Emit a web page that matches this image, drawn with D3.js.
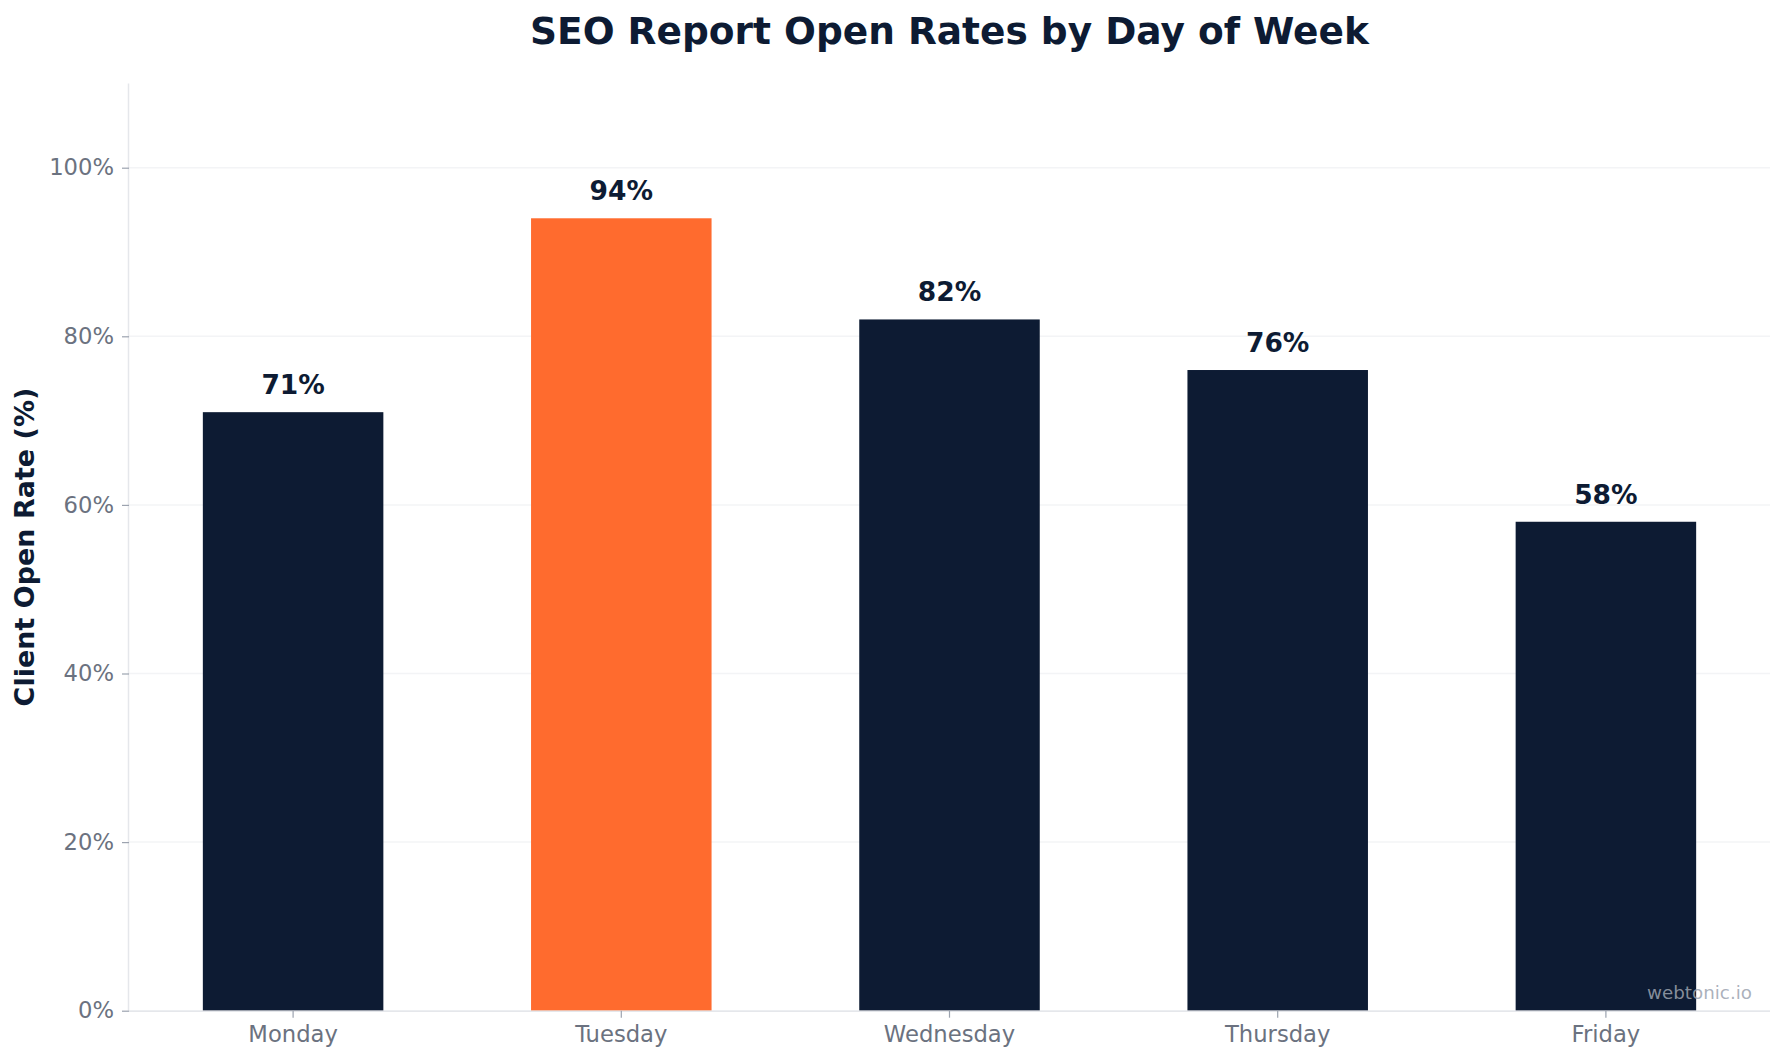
<!DOCTYPE html>
<html>
<head>
<meta charset="utf-8">
<script src="https://cdn.jsdelivr.net/npm/d3@7"></script>
<style>
  body { margin: 0; background: #fff; }
  svg { display: block; font-family: "DejaVu Sans", sans-serif; }
</style>
</head>
<body>
<svg width="1784" height="1064"></svg>
<script>
// chart data
var days = ["Monday", "Tuesday", "Wednesday", "Thursday", "Friday"];
var openRates = [71, 94, 82, 76, 58];
var highlightDay = "Tuesday";
var yTicks = [0, 20, 40, 60, 80, 100];

var svg = d3.select("svg");
var margin = {top: 83.4, right: 14, bottom: 53.3, left: 129};
var width = 1784 - margin.left - margin.right;
var height = 1064 - margin.top - margin.bottom;

var navy = "#0d1b33";
var orange = "#ff6b2e";

var g = svg.append("g")
    .attr("transform", "translate(" + margin.left + "," + margin.top + ")");

var x = d3.scaleBand().range([0, width])
    .domain(days)
    .paddingInner(0.45)
    .paddingOuter(0.225);

var y = d3.scaleLinear().range([height, 0]).domain([0, 110]);

// grid lines
g.append("g")
    .selectAll("line")
    .data(yTicks)
    .enter().append("line")
    .attr("x1", 0)
    .attr("x2", width)
    .attr("y1", function(d) { return y(d); })
    .attr("y2", function(d) { return y(d); })
    .attr("stroke", "#f3f4f6")
    .attr("stroke-width", 1.5);

// bars
g.selectAll(".bar")
    .data(days)
    .enter().append("rect")
    .attr("class", "bar")
    .attr("x", function(d) { return x(d); })
    .attr("y", function(d, i) { return y(openRates[i]); })
    .attr("width", x.bandwidth())
    .attr("height", function(d, i) { return height - y(openRates[i]); })
    .attr("fill", function(d) { return d === highlightDay ? orange : navy; });

// value labels
g.selectAll(".val")
    .data(days)
    .enter().append("text")
    .attr("class", "val")
    .attr("x", function(d) { return x(d) + x.bandwidth() / 2; })
    .attr("y", function(d, i) { return y(openRates[i]) - 18; })
    .attr("text-anchor", "middle")
    .attr("font-size", "26.5px")
    .attr("font-weight", "bold")
    .attr("fill", navy)
    .text(function(d, i) { return openRates[i] + "%"; });

// axes
var xAxis = g.append("g")
    .attr("transform", "translate(0," + height + ")")
    .call(d3.axisBottom(x).tickSize(7).tickPadding(8));

var yAxis = g.append("g")
    .call(d3.axisLeft(y).tickValues(yTicks).tickSize(7).tickPadding(8)
        .tickFormat(function(d) { return d + "%"; }));

[xAxis, yAxis].forEach(function(ax) {
    ax.select(".domain").attr("stroke", "#e5e7eb").attr("stroke-width", 1.5);
    ax.selectAll(".tick line").attr("stroke", "#9ca3af").attr("stroke-width", 1.2);
    ax.selectAll(".tick text")
        .attr("fill", "#6b7280")
        .attr("font-size", "22.7px")
        .attr("font-family", "DejaVu Sans, sans-serif");
});
xAxis.select(".domain").attr("d", "M0,0.5H" + width);
yAxis.select(".domain").attr("d", "M-0.5," + height + "V0");

// y axis title
svg.append("text")
    .attr("transform", "translate(33.5," + (margin.top + height / 2) + ") rotate(-90)")
    .attr("text-anchor", "middle")
    .attr("font-size", "27px")
    .attr("font-weight", "bold")
    .attr("fill", navy)
    .text("Client Open Rate (%)");

// title
svg.append("text")
    .attr("x", margin.left + width / 2)
    .attr("y", 43.5)
    .attr("text-anchor", "middle")
    .attr("font-size", "37.5px")
    .attr("font-weight", "bold")
    .attr("fill", navy)
    .text("SEO Report Open Rates by Day of Week");

// watermark
svg.append("text")
    .attr("x", 1752)
    .attr("y", 999)
    .attr("text-anchor", "end")
    .attr("font-size", "18.3px")
    .attr("fill", "#9ca3af")
    .attr("fill-opacity", 0.85)
    .text("webtonic.io");
</script>
</body>
</html>
